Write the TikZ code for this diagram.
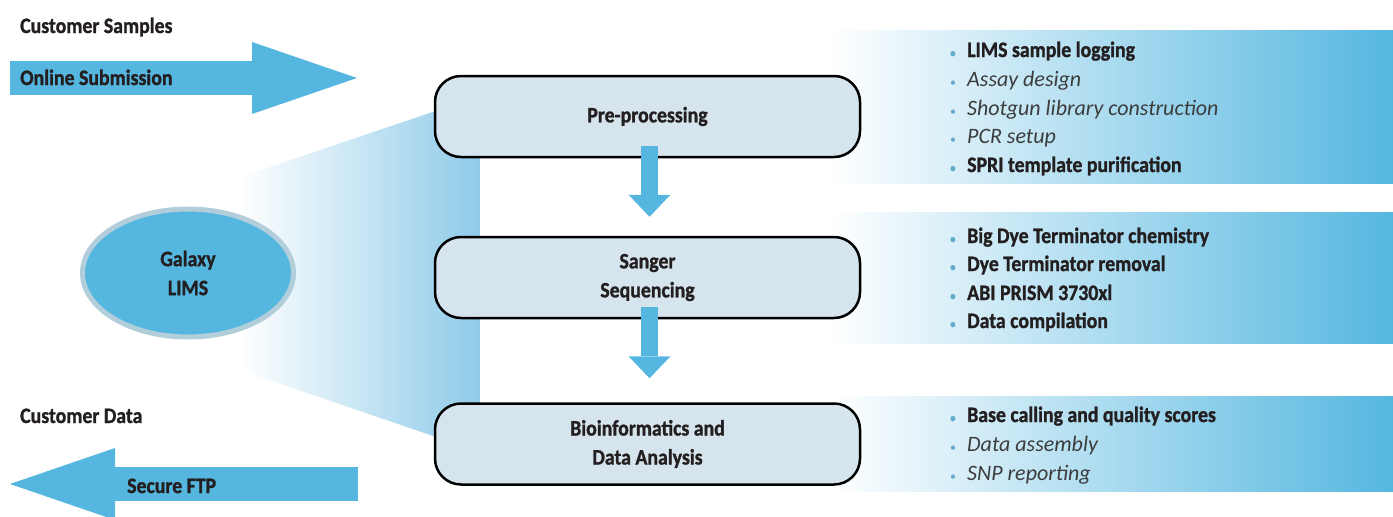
\documentclass[tikz,border=0pt]{standalone}
\usepackage{fontspec}
\setmainfont{Carlito}
\newfontfamily\condfont{Carlito}[FakeStretch=0.9, BoldFeatures={FakeBold=1.2}]
\usetikzlibrary{shapes.geometric,arrows.meta,calc}

\definecolor{arrowblue}{RGB}{85,183,224}
\definecolor{boxfill}{RGB}{214,229,237}
\definecolor{hubborder}{RGB}{178,206,219}
\definecolor{funnelblue}{RGB}{143,203,233}
\definecolor{dotblue}{RGB}{100,170,205}
\definecolor{itemgrey}{RGB}{60,60,60}
\definecolor{textdark}{RGB}{35,31,32}

\newcommand{\bigfont}{\fontsize{22}{29}\selectfont}
\newcommand{\dotitem}{\makebox[17pt][l]{\upshape\textcolor{dotblue}{\fontsize{12}{12}\selectfont\textbullet}}}

\begin{document}
\begin{tikzpicture}[
    x=1pt, y=-1pt,
    font=\bigfont\condfont\bfseries, text=textdark,
    stage/.style={rectangle, rounded corners=26pt, draw=black, line width=2.5pt, fill=boxfill,
      minimum width=425pt, minimum height=81pt, inner sep=0pt, align=center},
    hub/.style={ellipse, draw=hubborder, line width=5pt, fill=arrowblue,
      minimum width=211pt, minimum height=128pt, inner sep=0pt, align=center},
    flow/.style={draw=arrowblue, line width=17pt, -{Triangle[width=42pt,length=22pt,line width=0pt]}},
    bigarrow/.style={draw=arrowblue, line width=34pt, -{Triangle[width=72pt,length=105pt,line width=0pt]}},
    heading/.style={anchor=base west, inner sep=0pt},
    item/.style={anchor=base west, inner sep=0pt},
    note/.style={item, font=\bigfont\itshape, text=itemgrey}
  ]
  \useasboundingbox (0,0) rectangle (1393,517);

  % Gradient from LIMS to the stages
  \shade[left color=white, right color=funnelblue] (240,177) -- (480,96) -- (480,452) -- (240,370) -- cycle;

  % Gradient panels behind the lists
  \shade[left color=white, right color=arrowblue] (830,30) rectangle (1393,183);
  \shade[left color=white, right color=arrowblue] (830,212) rectangle (1393,343);
  \shade[left color=white, right color=arrowblue] (830,396) rectangle (1393,491);

  % LIMS
  \node[hub] (lims) at (188,273) {Galaxy\\LIMS};

  % Stages
  \node[stage] (pre) at (647.5,116.5) {Pre-processing};
  \node[stage] (seq) at (647.5,277.5) {Sanger\\Sequencing};
  \node[stage] (bio) at (647.5,444) {Bioinformatics and\\Data Analysis};

  % Flow between stages
  \draw[flow] ($(pre.south)+(2,-12)$) -- ($(seq.north)+(2,-19)$);
  \draw[flow] ($(seq.south)+(2,-12)$) -- ($(bio.north)+(2,-24)$);

  % Input and output
  \coordinate (subtail) at (10,78);
  \coordinate (subtip) at (357,78);
  \coordinate (ftptail) at (358,484);
  \coordinate (ftptip) at (10,484);
  \draw[bigarrow] (subtail) -- (subtip);
  \draw[bigarrow] (ftptail) -- (ftptip);

  \node[heading] (samples) at (20,33) {Customer Samples};
  \node[heading] (online) at (20,85) {Online Submission};
  \node[heading] (custdata) at (20,423) {Customer Data};
  \node[heading] (ftp) at (127,493) {Secure FTP};

  % Pre-processing list
  \node[item] (p1) at (950,57) {\dotitem LIMS sample logging};
  \node[note] (p2) at (950,86) {\dotitem Assay design};
  \node[note] (p3) at (950,115) {\dotitem Shotgun library construction};
  \node[note] (p4) at (950,143) {\dotitem PCR setup};
  \node[item] (p5) at (950,172) {\dotitem SPRI template purification};

  % Sequencing list
  \node[item] (s1) at (950,243) {\dotitem Big Dye Terminator chemistry};
  \node[item] (s2) at (950,271) {\dotitem Dye Terminator removal};
  \node[item] (s3) at (950,300) {\dotitem ABI PRISM 3730xl};
  \node[item] (s4) at (950,328) {\dotitem Data compilation};

  % Analysis list
  \node[item] (b1) at (950,422) {\dotitem Base calling and quality scores};
  \node[note] (b2) at (950,451) {\dotitem Data assembly};
  \node[note] (b3) at (950,480) {\dotitem SNP reporting};

\end{tikzpicture}
\end{document}
